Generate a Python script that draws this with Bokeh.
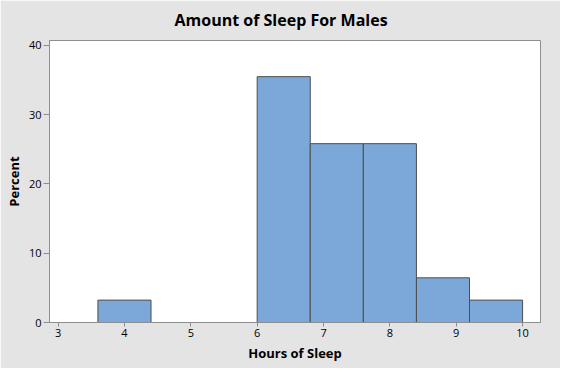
from bokeh.plotting import figure
from bokeh.models import Range1d, FixedTicker, ColumnDataSource
from bokeh.embed import file_html
from bokeh.resources import INLINE

# Data
bin_centers = [4.0, 4.8, 5.6, 6.4, 7.2, 8.0, 8.8, 9.6]
bin_width = 0.8
percent = [3.23, 0.0, 0.0, 35.48, 25.81, 25.81, 6.45, 3.23]
x_ticks = [3, 4, 5, 6, 7, 8, 9, 10]
y_ticks = [0, 10, 20, 30, 40]
title_text = "Amount of Sleep For Males"
x_label = "Hours of Sleep"
y_label = "Percent"

src = ColumnDataSource(dict(
    left=[c - bin_width / 2 for c in bin_centers],
    right=[c + bin_width / 2 for c in bin_centers],
    top=percent,
    bottom=[0.0] * len(percent),
))

FONT = "Open Sans"
GRAY = "#8e8e8e"

p = figure(width=560, height=368, output_backend="svg", toolbar_location=None,
           x_range=Range1d(2.87, 10.27), y_range=Range1d(0, 40.7),
           min_border_left=49, min_border_right=20, min_border_top=40,
           min_border_bottom=46)
p.background_fill_color = "white"
p.border_fill_color = "#e4e4e4"
p.outline_line_color = GRAY
p.outline_line_width = 1
p.grid.visible = False

p.title.text = title_text
p.title.align = "left"
p.title.offset = 125
p.title.text_font = FONT
p.title.text_font_size = "16px"
p.title.text_font_style = "bold"
p.title.text_color = "black"
p.title.standoff = 16
p.title.vertical_align = "top"

p.quad(left="left", right="right", top="top", bottom="bottom", source=src,
       fill_color="#7ba7d9", line_color="#4d4d4d", line_width=1)

for ax in (p.xaxis[0], p.yaxis[0]):
    ax.axis_line_color = GRAY
    ax.major_tick_line_color = GRAY
    ax.minor_tick_line_color = None
    ax.major_tick_in = 0
    ax.major_label_text_font = FONT
    ax.major_label_text_font_size = "11px"
    ax.major_label_text_color = "black"
    ax.axis_label_text_font = FONT
    ax.axis_label_text_font_size = "13px"
    ax.axis_label_text_font_style = "bold"
    ax.axis_label_text_color = "black"
    ax.major_label_standoff = 2

p.xaxis.ticker = FixedTicker(ticks=x_ticks)
p.yaxis.ticker = FixedTicker(ticks=y_ticks)
p.xaxis.major_tick_out = 4
p.yaxis.major_tick_out = 6
p.xaxis.axis_label = x_label
p.yaxis.axis_label = y_label
p.xaxis.axis_label_standoff = 4
p.yaxis.axis_label_standoff = 3

open("out.html", "w").write(file_html(p, INLINE))
